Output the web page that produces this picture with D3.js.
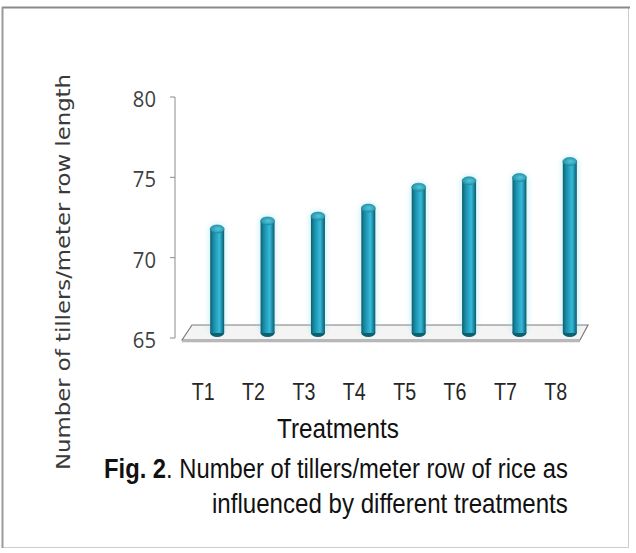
<!DOCTYPE html>
<html>
<head>
<meta charset="utf-8">
<script src="https://cdn.jsdelivr.net/npm/d3@7"></script>
<style>
  html, body { margin: 0; padding: 0; background: #ffffff; }
  svg { display: block; }
</style>
</head>
<body>
<svg id="chart" width="636" height="553"></svg>
<script>
// Tillers per metre row length for each treatment
const treatments = ["T1", "T2", "T3", "T4", "T5", "T6", "T7", "T8"];
const tillers = [71.6, 72.1, 72.4, 72.9, 74.2, 74.6, 74.8, 75.8];
const yTicks = [65, 70, 75, 80];

const yTitle = "Number of tillers/meter row length";
const xTitle = "Treatments";
const captionBold = "Fig. 2";
const captionLine1 = ". Number of tillers/meter row of rice as";
const captionLine2 = "influenced by different treatments";

const svg = d3.select("#chart");
const W = 636, H = 553;
const narrowFont = "'Liberation Sans Narrow', 'Arial Narrow', 'Liberation Sans', Arial, sans-serif";

// condense a text element horizontally so that it spans the given width
function condense(sel, left, baseline, width) {
  const w = sel.node().getComputedTextLength();
  sel.attr("x", 0).attr("y", 0)
    .attr("transform", `translate(${left},${baseline}) scale(${width / w},1)`);
}

// page frame
svg.append("rect").attr("x", 0).attr("y", 0).attr("width", W).attr("height", H).attr("fill", "#ffffff");
svg.append("rect")
  .attr("x", 2.5).attr("y", 7.5).attr("width", 626).attr("height", 540)
  .attr("fill", "none").attr("stroke", "#cdcdcd").attr("stroke-width", 1);
svg.append("line").attr("x1", 2).attr("x2", 630).attr("y1", 7.5).attr("y2", 7.5)
  .attr("stroke", "#8a8a8a").attr("stroke-width", 2);
svg.append("line").attr("x1", 2.5).attr("x2", 2.5).attr("y1", 7).attr("y2", 548)
  .attr("stroke", "#9a9a9a").attr("stroke-width", 2);

// scales
const y = d3.scaleLinear().domain([65, 80]).range([338, 97]);
const x = d3.scaleBand().domain(treatments).range([192, 595]).padding(0);

const depth = 7;      // half of the floor depth: bars stand in the middle of the floor
const barW = 14;
const capRy = 4;

// cylinder shading
const defs = svg.append("defs");
const grad = defs.append("linearGradient").attr("id", "cyl").attr("x1", "0").attr("x2", "1").attr("y1", "0").attr("y2", "0");
[["0%", "#0c5f6d"], ["22%", "#1889a2"], ["50%", "#2aa9c9"], ["66%", "#39b9d9"], ["86%", "#17839b"], ["100%", "#0b5a67"]]
  .forEach(([o, c]) => grad.append("stop").attr("offset", o).attr("stop-color", c));
const capGrad = defs.append("radialGradient").attr("id", "cap").attr("cx", "0.55").attr("cy", "0.5").attr("r", "0.6");
[["0%", "#55c7dc"], ["100%", "#1f8ea4"]].forEach(([o, c]) => capGrad.append("stop").attr("offset", o).attr("stop-color", c));
const glow = defs.append("filter").attr("id", "glow").attr("x", "-60%").attr("y", "-20%").attr("width", "220%").attr("height", "140%");
glow.append("feGaussianBlur").attr("stdDeviation", 2.5);

// y axis
const axisX = 175;
svg.append("line").attr("x1", axisX).attr("x2", axisX).attr("y1", y(80)).attr("y2", y(65))
  .attr("stroke", "#8c8c8c").attr("stroke-width", 1);
const tickG = svg.append("g");
tickG.selectAll("line").data(yTicks).join("line")
  .attr("x1", axisX - 5).attr("x2", axisX).attr("y1", d => y(d)).attr("y2", d => y(d))
  .attr("stroke", "#8c8c8c").attr("stroke-width", 1);
tickG.selectAll("text").data(yTicks).join("text")
  .attr("transform", d => `translate(156,${y(d) + 4}) scale(0.92,1)`)
  .attr("text-anchor", "end").attr("dominant-baseline", "middle")
  .attr("font-family", "'Open Sans', sans-serif").attr("font-size", 22)
  .attr("fill", "#404040")
  .text(d => d);

// floor (3D base of the plot)
const fy = y(65);
const x0 = x.range()[0], x1 = x.range()[1];
const floor = [
  [x0 - 10, fy + 2],
  [x0, fy - 13],
  [x1 - 7, fy - 13],
  [x1 - 15, fy + 2]
];
svg.append("path")
  .attr("d", "M" + floor.map(p => p.join(",")).join("L") + "Z")
  .attr("fill", "#f4f4f4").attr("stroke", "#7a7a7a").attr("stroke-width", 1.2);
svg.append("line").attr("x1", floor[0][0]).attr("x2", floor[3][0])
  .attr("y1", fy + 3.5).attr("y2", fy + 3.5).attr("stroke", "#b5b5b5").attr("stroke-width", 1.5);

// bars drawn as cylinders
const bars = svg.append("g").selectAll("g").data(treatments).join("g");
const cx = d => x(d) + x.bandwidth() / 2;
const topY = (d, i) => y(tillers[i]) - depth + capRy;
const baseY = fy - depth + 2;

bars.append("rect")
  .attr("x", d => cx(d) - barW / 2 - 2)
  .attr("y", (d, i) => topY(d, i) - capRy - 2)
  .attr("width", barW + 4)
  .attr("height", (d, i) => baseY - topY(d, i) + capRy + 4)
  .attr("rx", 8)
  .attr("fill", "#8fdcf0").attr("opacity", 0.35).attr("filter", "url(#glow)");
bars.append("ellipse")
  .attr("cx", cx).attr("cy", baseY)
  .attr("rx", barW / 2).attr("ry", capRy)
  .attr("fill", "#0d5f6c");
bars.append("rect")
  .attr("x", d => cx(d) - barW / 2)
  .attr("y", (d, i) => topY(d, i))
  .attr("width", barW)
  .attr("height", (d, i) => baseY - topY(d, i))
  .attr("fill", "url(#cyl)");
bars.append("ellipse")
  .attr("cx", cx).attr("cy", (d, i) => topY(d, i))
  .attr("rx", barW / 2).attr("ry", capRy)
  .attr("fill", "url(#cap)").attr("stroke", "#1b8499").attr("stroke-width", 0.6);

// category labels, shifted left by the 3D perspective
svg.append("g").selectAll("text").data(treatments).join("text")
  .attr("transform", d => `translate(${cx(d) - 14},400) scale(0.82,1)`)
  .attr("text-anchor", "middle")
  .attr("font-family", narrowFont)
  .attr("font-size", 24).attr("fill", "#262626")
  .text(d => d);

// axis titles
const xt = svg.append("text")
  .attr("font-family", narrowFont)
  .attr("font-size", 28).attr("fill", "#111")
  .text(xTitle);
condense(xt, 277, 438, 122);

svg.append("text")
  .attr("transform", "translate(70,272) rotate(-90)")
  .attr("text-anchor", "middle")
  .attr("font-family", "'DejaVu Sans', sans-serif")
  .attr("font-size", 20).attr("fill", "#3a3a3a")
  .attr("textLength", 396).attr("lengthAdjust", "spacingAndGlyphs")
  .text(yTitle);

// caption
const cap1 = svg.append("text")
  .attr("font-family", narrowFont)
  .attr("font-size", 27).attr("fill", "#111");
cap1.append("tspan").attr("font-weight", "bold").text(captionBold);
cap1.append("tspan").text(captionLine1);
condense(cap1, 104, 478, 464);

const cap2 = svg.append("text")
  .attr("font-family", narrowFont)
  .attr("font-size", 27).attr("fill", "#111")
  .text(captionLine2);
condense(cap2, 212, 513, 356);
</script>
</body>
</html>
